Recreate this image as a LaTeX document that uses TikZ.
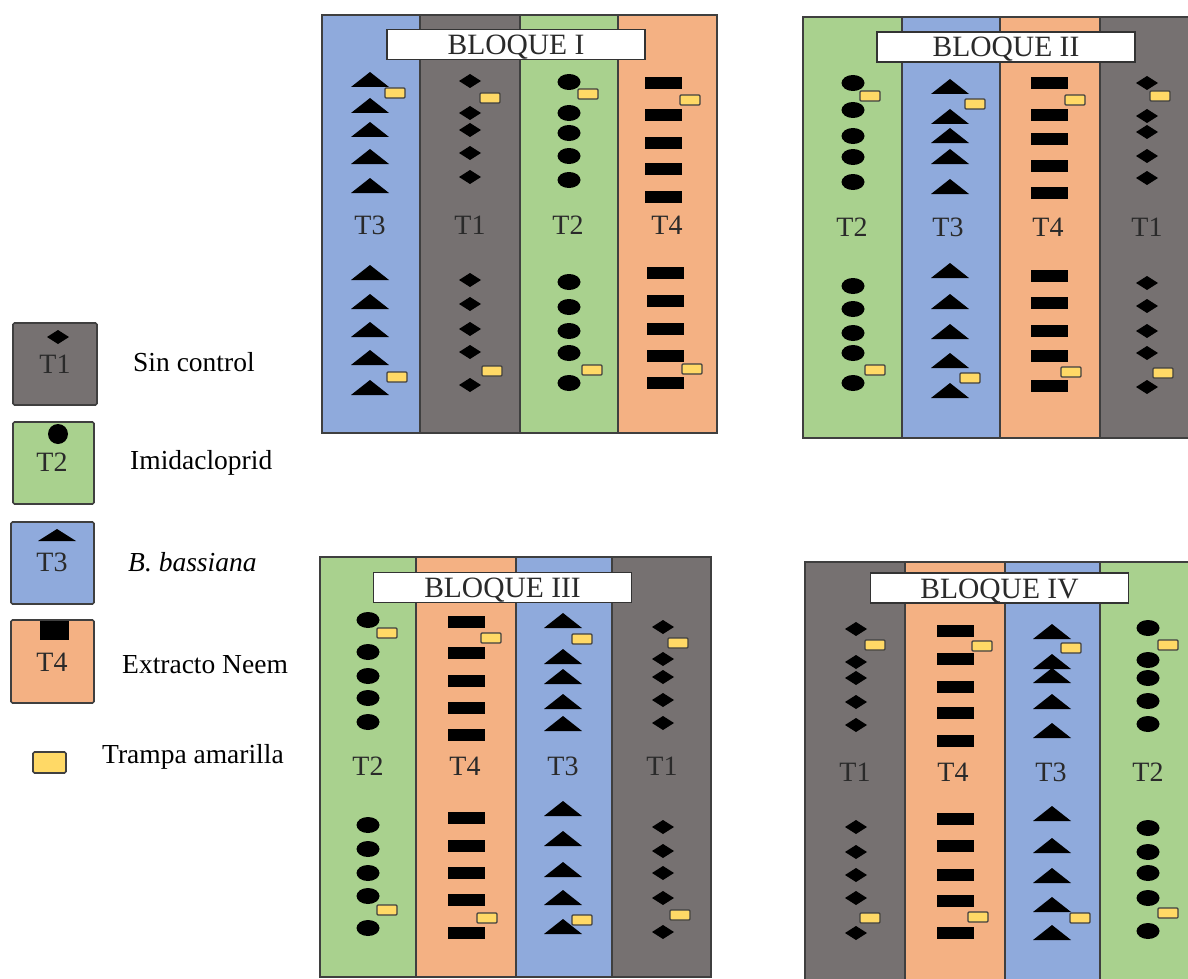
\documentclass[tikz,border=0pt]{standalone}
\usepackage{fontspec}
\setmainfont{Liberation Serif}
\definecolor{tgray}{HTML}{767171}
\definecolor{tgreen}{HTML}{A9D18E}
\definecolor{tblue}{HTML}{8FAADC}
\definecolor{torange}{HTML}{F4B183}
\definecolor{trapfill}{HTML}{FFD966}
\definecolor{edge}{HTML}{3F3F3F}
\definecolor{labtext}{HTML}{2A2A2A}

% plot markers (x, y in pixel-like units, y grows downwards)
\newcommand\mkdia[2]{\fill (#1-11,#2) -- (#1,#2-7) -- (#1+11,#2) -- (#1,#2+7) -- cycle;}
\newcommand\mkell[2]{\fill (#1,#2) ellipse [x radius=11.5pt, y radius=8pt];}
\newcommand\mktri[2]{\fill (#1-19,#2+7) -- (#1,#2-8) -- (#1+19,#2+7) -- cycle;}
\newcommand\mkbar[2]{\fill (#1-18.5,#2-6) rectangle (#1+18.5,#2+6);}
\newcommand\mktrap[2]{\filldraw[trap] (#1-10,#2-5) rectangle (#1+10,#2+5);}
% a row of markers: #1 marker macro, #2 x, #3 list of y
\newcommand\symrow[3]{\foreach \yy in {#3}{#1{#2}{\yy}}}
% a treatment strip: left, right, top, bottom, colour
\newcommand\strip[5]{\filldraw[fill=#5, draw=edge, line width=1.6pt] (#1,#3) rectangle (#2,#4);}

\tikzset{
  trap/.style={fill=trapfill, draw=black!75, line width=1.1pt, rounded corners=1pt},
  tlabel/.style={text=labtext, font=\fontsize{28}{30}\selectfont, inner sep=0pt},
  blocklabel/.style={draw=black!80, fill=white, line width=1.5pt, font=\fontsize{29.5}{32}\selectfont,
    text=labtext, inner sep=0pt, text height=20pt, text depth=0pt,
    minimum width=258pt, minimum height=30pt},
  legbox/.style={draw=edge, line width=1.6pt, rounded corners=1.5pt},
  legtext/.style={font=\fontsize{27.5}{30}\selectfont, anchor=west, inner sep=0pt},
}

\begin{document}
\begin{tikzpicture}[x=1pt, y=-1pt]
\useasboundingbox (0,0) rectangle (1188,979);
\clip (0,0) rectangle (1188,979);

% ---------------- BLOQUE I ----------------
\strip{322}{420}{15}{433}{tblue}
\strip{420}{520}{15}{433}{tgray}
\strip{520}{618}{15}{433}{tgreen}
\strip{618}{717}{15}{433}{torange}
\node[blocklabel] (b1) at (516,44.5) {BLOQUE I};
\symrow\mktri{370}{80,106,130,157,186}
\symrow\mktri{370}{273,302,330,358,388}
\mktrap{395}{93} \mktrap{397}{377}
\symrow\mkdia{470}{81,113,130,153,177}
\symrow\mkdia{470}{280,304,329,352,385}
\mktrap{490}{98} \mktrap{492}{371}
\symrow\mkell{569}{82,113,133,156,180}
\symrow\mkell{569}{282,307,331,353,383}
\mktrap{588}{94} \mktrap{592}{370}
\symrow\mkbar{663}{83,115,143,169,197}
\symrow\mkbar{665}{273,301,329,356,383}
\mktrap{690}{100} \mktrap{692}{369}
\node[tlabel] (b1t3) at (370,225) {T3};
\node[tlabel] (b1t1) at (470,225) {T1};
\node[tlabel] (b1t2) at (568,225) {T2};
\node[tlabel] (b1t4) at (667,225) {T4};

% ---------------- BLOQUE II ----------------
\strip{803}{902}{17}{438}{tgreen}
\strip{902}{1000}{17}{438}{tblue}
\strip{1000}{1100}{17}{438}{torange}
\strip{1100}{1200}{17}{438}{tgray}
\node[blocklabel] (b2) at (1006,47) {BLOQUE II};
\symrow\mkell{853}{83,110,136,157,182}
\symrow\mkell{853}{286,309,333,353,383}
\mktrap{870}{96} \mktrap{875}{370}
\symrow\mktri{950}{87,117,136,157,187}
\symrow\mktri{950}{271,302,332,361,391}
\mktrap{975}{104} \mktrap{970}{378}
\symrow\mkbar{1049}{83,115,139,166,193}
\symrow\mkbar{1049}{276,303,331,356,386}
\mktrap{1075}{100} \mktrap{1071}{372}
\symrow\mkdia{1147}{83,116,132,156,178}
\symrow\mkdia{1147}{283,306,331,353,387}
\mktrap{1160}{96} \mktrap{1163}{373}
\node[tlabel] (b2t2) at (852,227) {T2};
\node[tlabel] (b2t3) at (948,227) {T3};
\node[tlabel] (b2t4) at (1048,227) {T4};
\node[tlabel] (b2t1) at (1147,227) {T1};

% ---------------- BLOQUE III ----------------
\strip{320}{416}{557}{977}{tgreen}
\strip{416}{516}{557}{977}{torange}
\strip{516}{612}{557}{977}{tblue}
\strip{612}{711}{557}{977}{tgray}
\node[blocklabel] (b3) at (502.5,587.5) {BLOQUE III};
\symrow\mkell{368}{620,652,676,698,722}
\symrow\mkell{368}{825,849,873,896,928}
\mktrap{387}{633} \mktrap{387}{910}
\symrow\mkbar{466}{622,653,681,708,735}
\symrow\mkbar{466}{818,846,873,900,933}
\mktrap{491}{638} \mktrap{487}{918}
\symrow\mktri{563}{621,657,677,702,724}
\symrow\mktri{563}{809,839,870,898,927}
\mktrap{582}{639} \mktrap{582}{920}
\symrow\mkdia{663}{627,659,677,700,723}
\symrow\mkdia{663}{827,851,873,898,932}
\mktrap{678}{643} \mktrap{680}{915}
\node[tlabel] (b3t2) at (368,766) {T2};
\node[tlabel] (b3t4) at (465,766) {T4};
\node[tlabel] (b3t3) at (563,766) {T3};
\node[tlabel] (b3t1) at (662,766) {T1};

% ---------------- BLOQUE IV ----------------
\strip{805}{905}{562}{990}{tgray}
\strip{905}{1005}{562}{990}{torange}
\strip{1005}{1100}{562}{990}{tblue}
\strip{1100}{1200}{562}{990}{tgreen}
\node[blocklabel] (b4) at (999.5,588) {BLOQUE IV};
\symrow\mkdia{856}{629,662,678,702,725}
\symrow\mkdia{856}{827,852,875,898,933}
\mktrap{875}{645} \mktrap{870}{918}
\symrow\mkbar{955}{631,659,687,713,741}
\symrow\mkbar{955}{819,846,875,901,933}
\mktrap{982}{646} \mktrap{978}{917}
\symrow\mktri{1052}{632,662,676,702,731}
\symrow\mktri{1052}{814,846,876,905,933}
\mktrap{1071}{648} \mktrap{1080}{918}
\symrow\mkell{1148}{628,660,678,701,724}
\symrow\mkell{1148}{828,852,873,898,931}
\mktrap{1168}{645} \mktrap{1168}{913}
\node[tlabel] (b4t1) at (855,772) {T1};
\node[tlabel] (b4t4) at (953,772) {T4};
\node[tlabel] (b4t3) at (1051,772) {T3};
\node[tlabel] (b4t2) at (1148,772) {T2};

% ---------------- legend ----------------
\filldraw[legbox, fill=tgray] (13,323) rectangle (97,405);
\mkdia{58}{337}
\node[tlabel] (l1) at (55,364) {T1};
\node[legtext] (l1txt) at (133,362) {Sin control};

\filldraw[legbox, fill=tgreen] (13,422) rectangle (94,504);
\fill (58,434) circle [radius=10pt];
\node[tlabel] (l2) at (52,462) {T2};
\node[legtext] (l2txt) at (130,463) {Imidacloprid};

\filldraw[legbox, fill=tblue] (11,522) rectangle (94,604);
\fill (38,541) -- (57,529) -- (76,541) -- cycle;
\node[tlabel] (l3) at (52,562) {T3};
\node[legtext] (l3txt) at (128,562) {\itshape B. bassiana};

\filldraw[legbox, fill=torange] (11,620) rectangle (94,703);
\fill (40,621) rectangle (69,640);
\node[tlabel] (l4) at (52,662) {T4};
\node[legtext] (l4txt) at (122,665) {Extracto Neem};

\filldraw[trap, line width=1.6pt, rounded corners=1.5pt] (33,752) rectangle (66,773);
\node[legtext] (l5txt) at (102,757) {Trampa amarilla};
\end{tikzpicture}
\end{document}
